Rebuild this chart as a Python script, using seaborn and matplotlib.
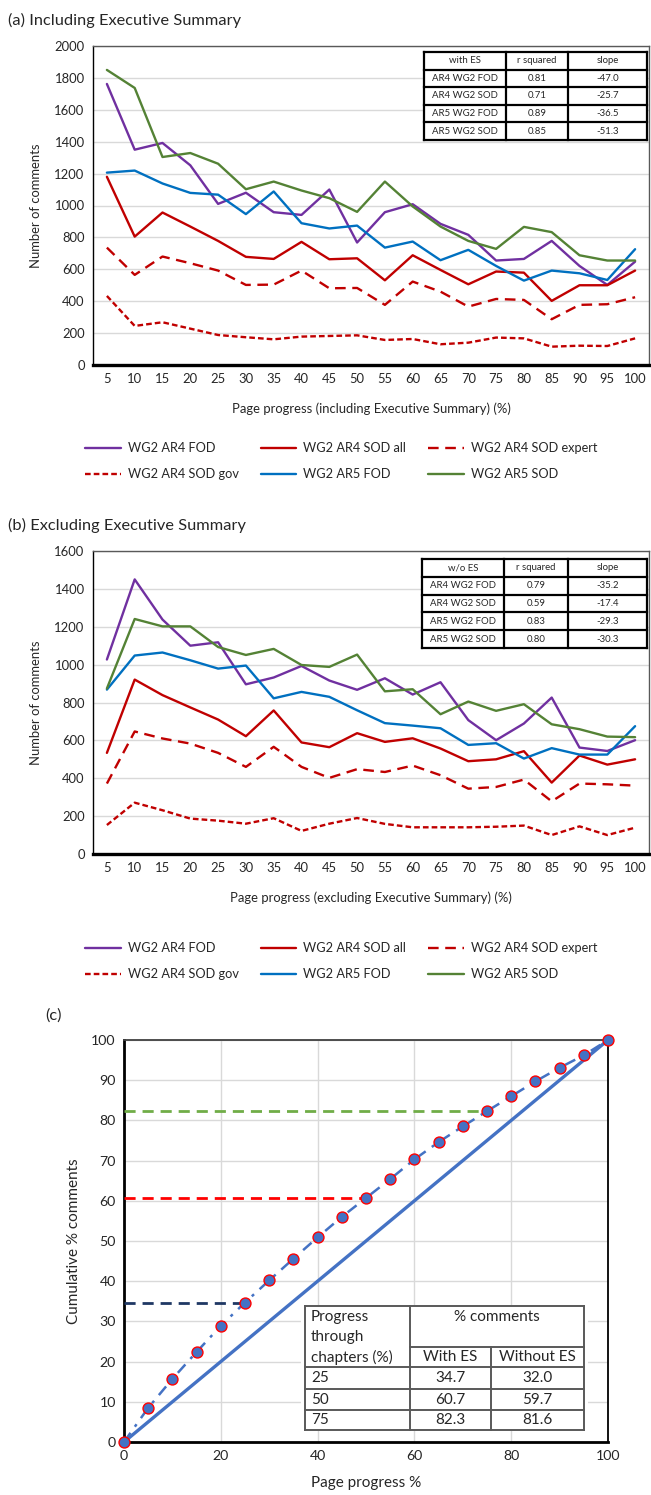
import numpy as np
import pandas as pd
import matplotlib
matplotlib.use("Agg")
import matplotlib.pyplot as plt
from matplotlib.patches import Rectangle
from matplotlib.lines import Line2D
import seaborn as sns

# ---------------- data ----------------
progress = [5, 10, 15, 20, 25, 30, 35, 40, 45, 50, 55, 60, 65, 70, 75, 80, 85, 90, 95, 100]

series_names = ["WG2 AR4 FOD", "WG2 AR4 SOD all", "WG2 AR4 SOD expert",
                "WG2 AR4 SOD gov", "WG2 AR5 FOD", "WG2 AR5 SOD"]

# (a) including Executive Summary
a_ar4_fod = [1762, 1350, 1392, 1252, 1010, 1080, 958, 941, 1100, 768, 958, 1008, 885, 816, 655, 665, 778, 621, 502, 648]
a_ar4_sod_all = [1180, 805, 956, 868, 778, 678, 665, 772, 663, 669, 531, 688, 596, 506, 586, 579, 402, 500, 500, 592]
a_ar4_sod_expert = [736, 565, 680, 638, 592, 502, 504, 592, 481, 483, 377, 523, 460, 366, 414, 408, 287, 377, 381, 425]
a_ar4_sod_gov = [433, 245, 268, 228, 188, 174, 161, 178, 182, 186, 157, 163, 130, 140, 172, 167, 115, 121, 119, 167]
a_ar5_fod = [1206, 1219, 1138, 1079, 1068, 946, 1088, 889, 856, 874, 736, 774, 657, 722, 621, 529, 592, 575, 533, 726]
a_ar5_sod = [1850, 1737, 1304, 1329, 1262, 1102, 1150, 1094, 1046, 960, 1150, 994, 868, 778, 728, 866, 833, 688, 655, 655]

# (b) excluding Executive Summary
b_ar4_fod = [1027, 1450, 1238, 1100, 1118, 896, 932, 993, 916, 867, 928, 842, 907, 707, 601, 689, 826, 562, 544, 601]
b_ar4_sod_all = [534, 921, 839, 774, 710, 622, 758, 589, 564, 638, 592, 611, 557, 490, 500, 543, 377, 520, 472, 500]
b_ar4_sod_expert = [372, 647, 610, 583, 534, 460, 566, 460, 402, 448, 433, 467, 416, 345, 354, 393, 278, 372, 368, 361]
b_ar4_sod_gov = [153, 271, 231, 187, 176, 160, 189, 122, 160, 190, 159, 141, 141, 141, 144, 150, 100, 146, 100, 139]
b_ar5_fod = [868, 1048, 1064, 1023, 979, 995, 822, 856, 830, 759, 691, 678, 664, 576, 585, 504, 559, 525, 525, 675]
b_ar5_sod = [874, 1241, 1202, 1202, 1093, 1051, 1083, 998, 988, 1053, 859, 870, 738, 805, 756, 791, 685, 659, 620, 617]

# regression summary tables
fit_rows = ["AR4 WG2 FOD", "AR4 WG2 SOD", "AR5 WG2 FOD", "AR5 WG2 SOD"]
a_rsq = ["0.81", "0.71", "0.89", "0.85"]
a_slope = ["-47.0", "-25.7", "-36.5", "-51.3"]
b_rsq = ["0.79", "0.59", "0.83", "0.80"]
b_slope = ["-35.2", "-17.4", "-29.3", "-30.3"]

# (c) cumulative share of comments
c_progress = [0, 5, 10, 15, 20, 25, 30, 35, 40, 45, 50, 55, 60, 65, 70, 75, 80, 85, 90, 95, 100]
c_cumulative = [0, 8.5, 15.7, 22.4, 28.9, 34.7, 40.2, 45.6, 50.9, 56.0, 60.7, 65.4, 70.3,
                74.6, 78.5, 82.3, 86.0, 89.7, 93.1, 96.2, 100]
c_marks = [25, 50, 75]
c_with_es = [34.7, 60.7, 82.3]
c_without_es = [32.0, 59.7, 81.6]

# ---------------- styling ----------------
W, H = 651, 1495
sns.set_style("white")
plt.rcParams["font.family"] = ["Lato", "DejaVu Sans"]

PURPLE, RED, BLUE, GREEN = "#7030A0", "#C00000", "#0070C0", "#548235"
line_styles = {
    "WG2 AR4 FOD": dict(color=PURPLE, linestyle="-"),
    "WG2 AR4 SOD all": dict(color=RED, linestyle="-"),
    "WG2 AR4 SOD expert": dict(color=RED, linestyle=(0, (4.5, 2.8))),
    "WG2 AR4 SOD gov": dict(color=RED, linestyle=(0, (2.4, 1.3))),
    "WG2 AR5 FOD": dict(color=BLUE, linestyle="-"),
    "WG2 AR5 SOD": dict(color=GREEN, linestyle="-"),
}

TICK_FS = 9.4
fig = plt.figure(figsize=(W / 100, H / 100), dpi=100)
fig.patch.set_facecolor("white")


def fx(px):
    return px / W


def fy(py):
    return 1 - py / H


def axes_px(left, top, right, bottom):
    return fig.add_axes([fx(left), fy(bottom), (right - left) / W, (bottom - top) / H])


def fig_line(x0, y0, x1, y1, color="black", lw=1.0):
    fig.add_artist(Line2D([fx(x0), fx(x1)], [fy(y0), fy(y1)], transform=fig.transFigure,
                          color=color, lw=lw, solid_capstyle="projecting", zorder=20))


def fit_table(left, top, right, bottom, col_x, header, rsq, slope):
    n = len(rsq) + 1
    rh = (bottom - top) / n
    fig.add_artist(Rectangle((fx(left), fy(bottom)), (right - left) / W, (bottom - top) / H,
                             transform=fig.transFigure, facecolor="white", edgecolor="none", zorder=19))
    for i in range(n + 1):
        fig_line(left, top + i * rh, right, top + i * rh, lw=1.6)
    for x in [left] + col_x + [right]:
        fig_line(x, top, x, bottom, lw=1.6)
    edges = [left] + col_x + [right]
    rows = [[header, "r squared", "slope"]] + [[r, q, s] for r, q, s in zip(fit_rows, rsq, slope)]
    for i, row in enumerate(rows):
        yc = top + (i + 0.5) * rh
        for j, txt in enumerate(row):
            xc = (edges[j] + edges[j + 1]) / 2
            fig.text(fx(xc), fy(yc), txt, ha="center", va="center", fontsize=6.9, zorder=21)


def comment_panel(ax, values, ymax, xlabel):
    df = pd.DataFrame({"progress": progress})
    for name, vals in zip(series_names, values):
        df[name] = vals
    for name in series_names:
        sns.lineplot(data=df, x="progress", y=name, ax=ax, label=name,
                     linewidth=1.7, **line_styles[name])
    ax.set_xlim(2.5, 102.5)
    ax.set_ylim(0, ymax)
    ax.set_xticks(progress)
    ax.set_xticklabels([str(p) for p in progress])
    ax.set_yticks(np.arange(0, ymax + 1, 200))
    ax.tick_params(axis="both", length=0, labelsize=TICK_FS, pad=6)
    ax.yaxis.grid(True, color="#D9D9D9", lw=1)
    ax.set_axisbelow(True)
    ax.set_ylabel("Number of comments", fontsize=9.4, labelpad=9)
    ax.set_xlabel(xlabel, fontsize=9.4, labelpad=12)
    for side in ["top", "right"]:
        ax.spines[side].set_color("#595959")
        ax.spines[side].set_linewidth(1.0)
    ax.spines["left"].set_color("black")
    ax.spines["left"].set_linewidth(1.0)
    ax.spines["bottom"].set_color("black")
    ax.spines["bottom"].set_linewidth(2.4)
    handles, labels = ax.get_legend_handles_labels()
    ax.get_legend().remove()
    return dict(zip(labels, handles))


def panel_legend(hmap, top_px):
    order = ["WG2 AR4 FOD", "WG2 AR4 SOD gov", "WG2 AR4 SOD all",
             "WG2 AR5 FOD", "WG2 AR4 SOD expert", "WG2 AR5 SOD"]
    fig.legend([hmap[k] for k in order], order, ncol=3, loc="upper left",
               bbox_to_anchor=(fx(80), fy(top_px)), frameon=False, fontsize=9.2,
               handlelength=2.8, handletextpad=0.55, columnspacing=1.7,
               labelspacing=1.12, borderaxespad=0)


# ---------------- (a) ----------------
fig.text(fx(8), fy(20), "(a) Including Executive Summary", fontsize=11.8, va="center", ha="left")
ax_a = axes_px(93, 46, 649, 365)
h_a = comment_panel(ax_a, [a_ar4_fod, a_ar4_sod_all, a_ar4_sod_expert, a_ar4_sod_gov, a_ar5_fod, a_ar5_sod],
                    2000, "Page progress (including Executive Summary) (%)")
panel_legend(h_a, 437)
fit_table(424, 52, 647, 140, [506, 568], "with ES", a_rsq, a_slope)

# ---------------- (b) ----------------
fig.text(fx(8), fy(525), "(b) Excluding Executive Summary", fontsize=11.8, va="center", ha="left")
ax_b = axes_px(93, 551, 649, 854)
h_b = comment_panel(ax_b, [b_ar4_fod, b_ar4_sod_all, b_ar4_sod_expert, b_ar4_sod_gov, b_ar5_fod, b_ar5_sod],
                    1600, "Page progress (excluding Executive Summary) (%)")
panel_legend(h_b, 937)
fit_table(422, 559, 647, 648, [504, 568], "w/o ES", b_rsq, b_slope)

# ---------------- (c) ----------------
fig.text(fx(45), fy(1016), "(c)", fontsize=11.8, va="center", ha="left")
ax_c = axes_px(124, 1040, 608, 1442)
ax_c.set_xlim(0, 100)
ax_c.set_ylim(0, 100)
ax_c.grid(True, color="#D9D9D9", lw=1)
ax_c.set_axisbelow(True)

sns.lineplot(x=[0, 100], y=[0, 100], ax=ax_c, color="#4472C4", linewidth=2.4, zorder=3)
sns.lineplot(x=c_progress, y=c_cumulative, ax=ax_c, color="#4472C4", linewidth=1.8,
             linestyle=(0, (4.5, 3.0, 1.2, 3.0)), zorder=4)
mark_colors = ["#1F3864", "#FF0000", "#70AD47"]
for mx, my, col in zip(c_marks, c_with_es, mark_colors):
    ax_c.plot([0, mx], [my, my], color=col, lw=2.0, linestyle=(0, (4, 2.5)), zorder=4)
sns.scatterplot(x=c_progress, y=c_cumulative, ax=ax_c, s=62, color="#4472C4",
                edgecolor="#FF0000", linewidth=1.0, zorder=6, clip_on=False)

ax_c.set_xticks(np.arange(0, 101, 20))
ax_c.set_yticks(np.arange(0, 101, 10))
ax_c.tick_params(axis="both", length=0, labelsize=10.2, pad=6)
ax_c.set_xlabel("Page progress %", fontsize=11, labelpad=10)
ax_c.set_ylabel("Cumulative % comments", fontsize=11, labelpad=7)
ax_c.spines["left"].set_color("black")
ax_c.spines["left"].set_linewidth(2.0)
ax_c.spines["bottom"].set_color("black")
ax_c.spines["bottom"].set_linewidth(2.0)
ax_c.spines["right"].set_color("black")
ax_c.spines["right"].set_linewidth(1.3)
ax_c.spines["top"].set_color("#404040")
ax_c.spines["top"].set_linewidth(1.3)

# summary table drawn over the panel
tl, tr, tt, tb = 305, 584, 1306, 1430
c1, c2 = 410, 491
rows_y = [1347, 1367, 1389, 1410]
fig.add_artist(Rectangle((fx(tl - 4), fy(tb + 1)), (tr - tl + 8) / W, (tb - tt + 2) / H,
                         transform=fig.transFigure, facecolor="white", edgecolor="none", zorder=19))
tc = "#595959"
fig_line(tl, tt, tr, tt, tc, 1.4)
fig_line(tl, tb, tr, tb, tc, 1.4)
fig_line(tl, tt, tl, tb, tc, 1.4)
fig_line(tr, tt, tr, tb, tc, 1.4)
fig_line(c1, tt, c1, tb, tc, 1.4)
fig_line(c2, rows_y[0], c2, tb, tc, 1.4)
fig_line(c1, rows_y[0], tr, rows_y[0], tc, 1.4)
for yy in rows_y[1:]:
    fig_line(tl, yy, tr, yy, tc, 1.4)
fs = 11
for txt, yy in zip(["Progress", "through", "chapters (%)"], [1317, 1337, 1357]):
    fig.text(fx(311), fy(yy), txt, fontsize=fs, ha="left", va="center", zorder=21)
fig.text(fx((c1 + tr) / 2), fy(1317), "% comments", fontsize=fs, ha="center", va="center", zorder=21)
fig.text(fx((c1 + c2) / 2), fy(1357), "With ES", fontsize=fs, ha="center", va="center", zorder=21)
fig.text(fx((c2 + tr) / 2), fy(1357), "Without ES", fontsize=fs, ha="center", va="center", zorder=21)
row_centers = [(rows_y[1] + rows_y[2]) / 2, (rows_y[2] + rows_y[3]) / 2, (rows_y[3] + tb) / 2]
for m, w, wo, yy in zip(c_marks, c_with_es, c_without_es, row_centers):
    fig.text(fx(311), fy(yy), str(m), fontsize=fs, ha="left", va="center", zorder=21)
    fig.text(fx((c1 + c2) / 2), fy(yy), f"{w:.1f}", fontsize=fs, ha="center", va="center", zorder=21)
    fig.text(fx((c2 + tr) / 2), fy(yy), f"{wo:.1f}", fontsize=fs, ha="center", va="center", zorder=21)

fig.savefig("out.png", dpi=100, facecolor="white")
